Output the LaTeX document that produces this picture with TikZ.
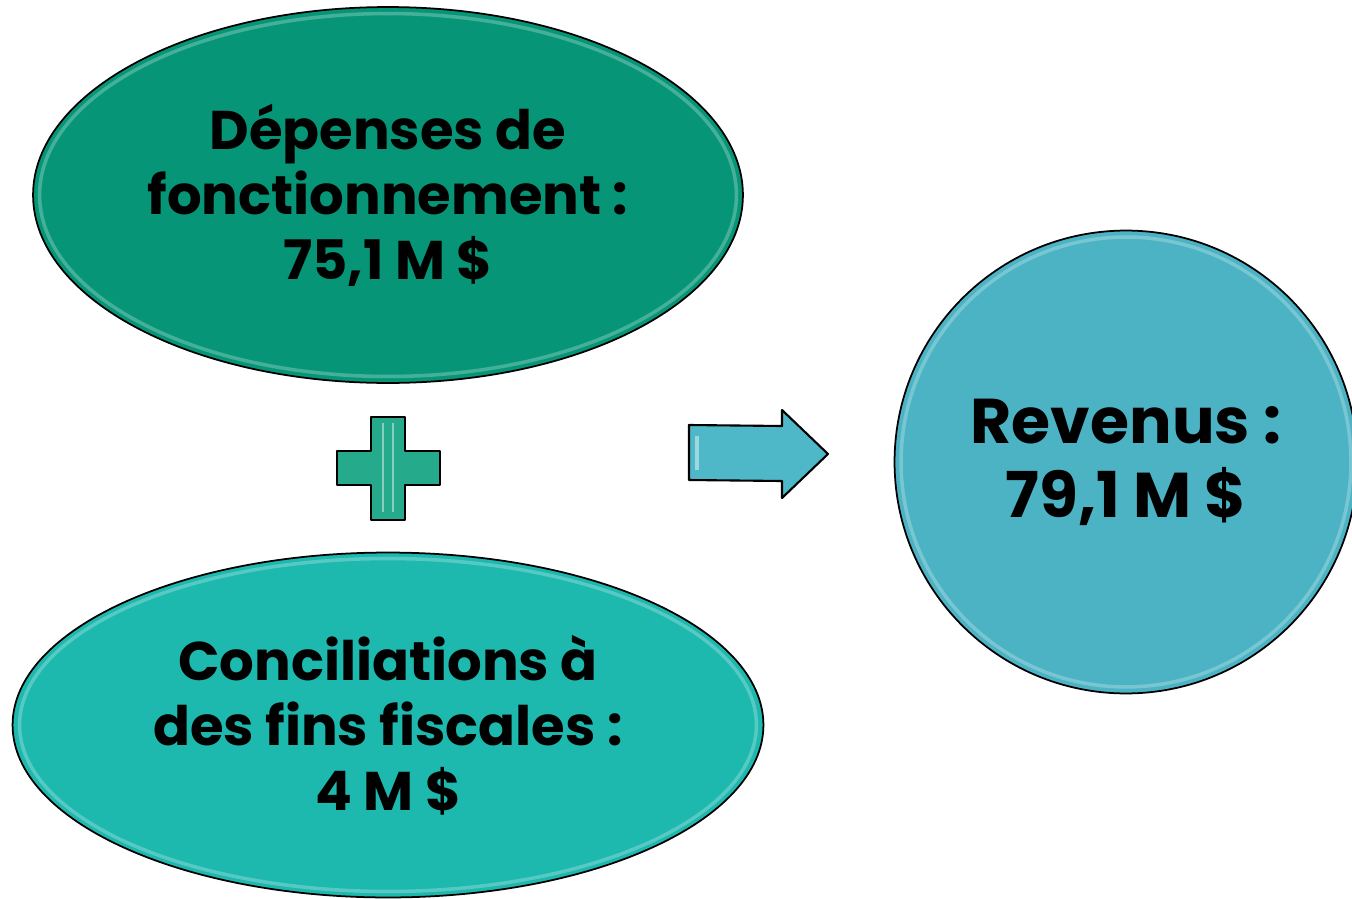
\documentclass[tikz,border=0pt]{standalone}
\usepackage{fontspec}
\setmainfont{Poppins}
\usetikzlibrary{shapes.geometric,positioning}
\definecolor{depgreen}{RGB}{6,150,119}
\definecolor{concteal}{RGB}{29,184,174}
\definecolor{revblue}{RGB}{75,179,196}
\definecolor{plusgreen}{RGB}{38,170,140}
\definecolor{arrowblue}{RGB}{78,184,200}

\begin{document}
\begin{tikzpicture}[x=0.02cm, y=-0.02cm,
    bubble/.style={ellipse, draw=black, line width=1pt, align=center, inner sep=0pt},
    bubbletext/.style={align=center, font=\bfseries\fontsize{31}{37}\selectfont},
    gloss/.style={white, opacity=0.25, line width=2pt},
    shapebox/.style={draw=black, line width=1.2pt, line join=round}
]
\clip (0,0) rectangle (1352,899);

% the three amounts
\node[bubble, fill=depgreen, minimum width=14.2cm, minimum height=7.52cm] (dep) at (388,195) {};
\node[bubble, fill=concteal, minimum width=15.02cm, minimum height=6.9cm] (conc) at (388,725) {};
\node[bubble, circle, fill=revblue, minimum size=9.26cm] (rev) at (1126,462) {};

\draw[gloss] (dep.center) ellipse [x radius=6.97cm, y radius=3.63cm];
\draw[gloss] (conc.center) ellipse [x radius=7.37cm, y radius=3.33cm];
\draw[gloss] (rev.center) circle [radius=4.5cm];

\node[bubbletext] (deptext) at (dep.center) {Dépenses de\\fonctionnement :\\75,1 M \$};
\node[bubbletext] (conctext) at (conc.center) {Conciliations à\\des fins fiscales :\\4 M \$};
\node[bubbletext, font=\bfseries\fontsize{36}{42}\selectfont] (revtext) at (rev.center) {Revenus :\\79,1 M \$};

% plus sign
\draw[shapebox, fill=plusgreen] (371,417) -- (405,417) -- (405,451) -- (440,451) -- (440,485)
  -- (405,485) -- (405,520) -- (371,520) -- (371,485) -- (337,485) -- (337,451) -- (371,451) -- cycle;
\draw[gloss, opacity=0.45, line width=1.5pt] (383,423) -- (383,512);
\draw[gloss, opacity=0.45, line width=1.5pt] (393,423) -- (393,512);

% arrow
\draw[shapebox, fill=arrowblue] (689,425) -- (782,426) -- (782,410) -- (828,454) -- (782,498)
  -- (782,481) -- (689,480) -- cycle;
\draw[gloss, opacity=0.45] (697,436) -- (697,470);
\end{tikzpicture}
\end{document}
